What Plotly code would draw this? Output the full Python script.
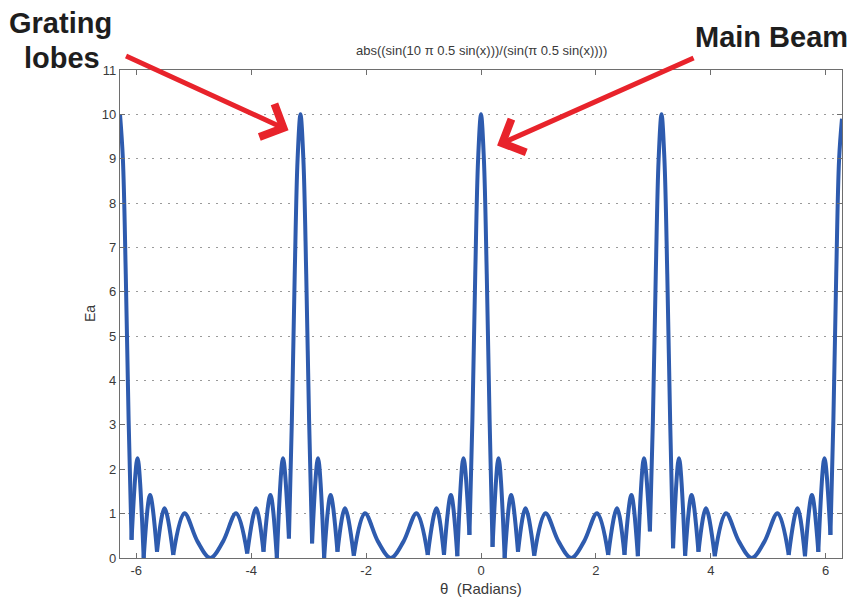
import plotly.graph_objects as go

# Curve samples (theta in radians, Ea magnitude)
theta = [
    -6.283, -6.233, -6.183, -6.133, -6.082, -5.978, -5.871, -5.760, -5.639, -5.508,
    -5.356, -5.163, -4.933, -4.712, -4.491, -4.261, -4.069, -3.916, -3.785, -3.665,
    -3.553, -3.446, -3.343, -3.292, -3.242, -3.192, -3.142, -3.092, -3.042, -2.992,
    -2.940, -2.837, -2.730, -2.618, -2.498, -2.367, -2.214, -2.022, -1.792, -1.571,
    -1.350, -1.120, -0.927, -0.775, -0.644, -0.524, -0.412, -0.305, -0.201, -0.150,
    -0.100, -0.050, 0.000, 0.050, 0.100, 0.150, 0.201, 0.305, 0.412, 0.524,
    0.644, 0.775, 0.927, 1.120, 1.350, 1.571, 1.792, 2.022, 2.214, 2.367,
    2.498, 2.618, 2.730, 2.837, 2.940, 2.992, 3.042, 3.092, 3.142, 3.192,
    3.242, 3.292, 3.343, 3.446, 3.553, 3.665, 3.785, 3.916, 4.069, 4.261,
    4.491, 4.712, 4.933, 5.163, 5.356, 5.508, 5.639, 5.760, 5.871, 5.978,
    6.082, 6.133, 6.183, 6.233, 6.283,
]
ea = [
    10.0, 9.0, 6.4, 3.1, 0.41, 2.25, 0.0, 1.42, 0.14, 1.12,
    0.07, 1.01, 0.37, 0.0, 0.37, 1.01, 0.10, 1.12, 0.14, 1.42,
    0.0, 2.25, 0.44, 3.1, 6.4, 9.0, 10.0, 9.0, 6.4, 3.1,
    0.33, 2.25, 0.0, 1.42, 0.14, 1.12, 0.05, 1.01, 0.37, 0.0,
    0.37, 1.01, 0.07, 1.12, 0.07, 1.42, 0.04, 2.25, 0.52, 3.1,
    6.4, 9.0, 10.0, 9.0, 6.4, 3.1, 0.25, 2.25, 0.0, 1.42,
    0.14, 1.12, 0.05, 1.01, 0.37, 0.0, 0.37, 1.01, 0.07, 1.12,
    0.07, 1.42, 0.04, 2.25, 0.60, 3.1, 6.4, 9.0, 10.0, 9.0,
    6.4, 3.1, 0.22, 2.25, 0.05, 1.42, 0.14, 1.12, 0.04, 1.01,
    0.37, 0.0, 0.37, 1.01, 0.07, 1.12, 0.04, 1.42, 0.14, 2.25,
    0.52, 3.1, 6.4, 9.0, 9.9,
]

x_ticks = [-6, -4, -2, 0, 2, 4, 6]
y_ticks = list(range(0, 12))

title_text = "abs((sin(10 \u03c0 0.5 sin(x)))/(sin(\u03c0 0.5 sin(x))))"
x_label = "\u03b8  (Radians)"
y_label = "Ea"

# split into lobes at sharp nulls so each lobe is smoothed separately (keeps V-shaped nulls)
xs, ys = [], []
n = len(theta)
for i in range(n):
    xs.append(theta[i]); ys.append(ea[i])
    if 0 < i < n - 1 and ea[i] < ea[i - 1] and ea[i] < ea[i + 1] and (theta[i + 1] - theta[i - 1]) < 0.4:
        xs.append(None); ys.append(None)
        xs.append(theta[i]); ys.append(ea[i])

fig = go.Figure()
fig.add_trace(go.Scatter(
    x=xs, y=ys, mode="lines", connectgaps=False,
    line=dict(color="#2E5BAE", width=4, shape="spline", smoothing=1.0),
    showlegend=False, hoverinfo="skip",
))

font_tick = dict(family="Liberation Sans, Arial, sans-serif", size=13, color="#3a3a3a")
fig.update_layout(
    width=848, height=592,
    margin=dict(l=112, r=14, t=62, b=42),
    paper_bgcolor="white", plot_bgcolor="white",
    xaxis=dict(
        range=[-6.2832, 6.2832], tickvals=x_ticks, ticktext=[str(v) for v in x_ticks],
        showgrid=False, zeroline=False, showline=True, linecolor="#6e6e6e", linewidth=1.2,
        mirror="ticks", ticks="inside", ticklen=5, tickcolor="#6e6e6e", tickfont=font_tick,
    ),
    yaxis=dict(
        range=[0, 11], tickvals=y_ticks, ticktext=[str(v) for v in y_ticks],
        showgrid=True, gridcolor="#9a9a9a", griddash="2px,6px", gridwidth=1.2,
        zeroline=False, showline=True, linecolor="#6e6e6e", linewidth=1.2,
        mirror="ticks", ticks="inside", ticklen=5, tickcolor="#6e6e6e", tickfont=font_tick,
    ),
)

big = dict(family="Liberation Sans, Arial", size=29, color="#1e1e1e")
annots = [
    dict(text=title_text, xref="paper", yref="paper", x=0.5, y=1.0, yshift=20,
         xanchor="center", yanchor="middle", showarrow=False,
         font=dict(family="Liberation Sans, Arial", size=13, color="#3a3a3a")),
    dict(text=x_label, xref="paper", yref="paper", x=0.5, y=0, yshift=-30,
         xanchor="center", yanchor="middle", showarrow=False,
         font=dict(family="Liberation Sans, Arial", size=15, color="#3a3a3a")),
    dict(text=y_label, xref="paper", yref="paper", x=0, y=0.5, xshift=-30, textangle=-90,
         xanchor="center", yanchor="middle", showarrow=False,
         font=dict(family="Liberation Sans, Arial", size=14, color="#3a3a3a")),
    dict(text="<b>Grating</b>", xref="paper", yref="paper", x=-0.083, y=1.0, yshift=47,
         xanchor="center", yanchor="middle", showarrow=False, font=big),
    dict(text="<b>lobes</b>", xref="paper", yref="paper", x=-0.080, y=1.0, yshift=12,
         xanchor="center", yanchor="middle", showarrow=False, font=big),
    dict(text="<b>Main Beam</b>", xref="paper", yref="paper", x=0.903, y=1.0, yshift=33,
         xanchor="center", yanchor="middle", showarrow=False, font=big),
    dict(text="", x=-3.35, y=9.64, xref="x", yref="y", showarrow=True,
         ax=-164, ay=-75, axref="pixel", ayref="pixel",
         arrowhead=4, arrowsize=1.4, arrowwidth=5, arrowcolor="#E8232B"),
    dict(text="", x=0.28, y=9.3, xref="x", yref="y", showarrow=True,
         ax=198, ay=-88, axref="pixel", ayref="pixel",
         arrowhead=4, arrowsize=1.4, arrowwidth=5, arrowcolor="#E8232B"),
]
fig.update_layout(annotations=annots)

fig.write_html("out.html")
